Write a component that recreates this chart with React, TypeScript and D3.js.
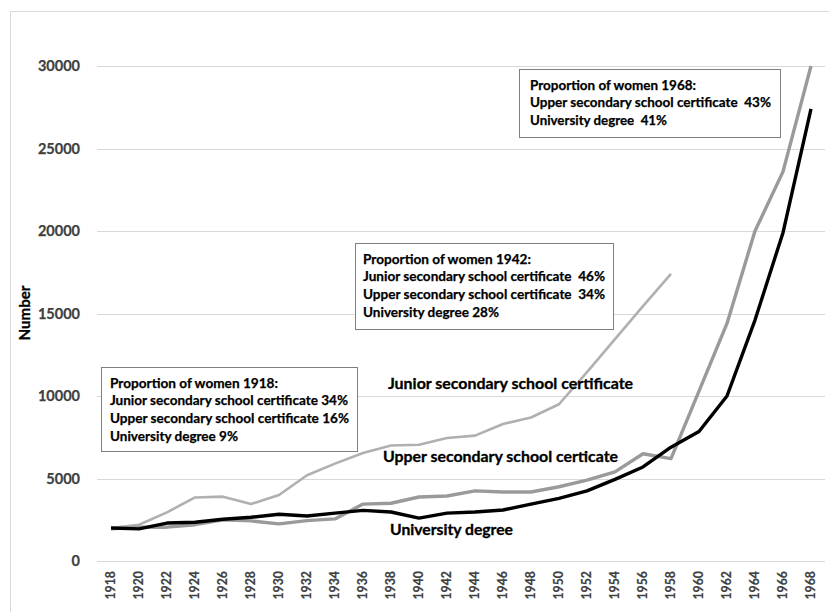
import * as d3 from 'd3'

const years = d3.range(1918, 1969, 2).map(String)
const juniorValues = [2000, 2200, 2950, 3850, 3900, 3450, 4000, 5200, 5900, 6550, 7000, 7050, 7450, 7600, 8300, 8700, 9500, 11450, 13450, 15450, 17400]
const upperValues = [1950, 2050, 2050, 2200, 2500, 2430, 2250, 2450, 2550, 3450, 3500, 3880, 3940, 4250, 4180, 4180, 4500, 4900, 5400, 6500, 6200, 10300, 14400, 20000, 23600, 30000]
const universityValues = [2000, 1950, 2300, 2350, 2530, 2650, 2830, 2730, 2900, 3070, 2970, 2600, 2900, 2970, 3090, 3450, 3800, 4250, 4950, 5700, 6900, 7850, 10000, 14600, 19900, 27400]
const yTicks = [0, 5000, 10000, 15000, 20000, 25000, 30000]

const seriesLabels = [
  { text: 'Junior secondary school certificate', x: 388, y: 384, w: 245 },
  { text: 'Upper secondary school certicate', x: 383, y: 457, w: 235 },
  { text: 'University degree', x: 390, y: 530, w: 123 },
]

const noteBoxes = [
  {
    x: 101, y: 367, w: 256, h: 84, tx: 110, ty: 383,
    lines: ['Proportion of women 1918:', 'Junior secondary school certificate 34%', 'Upper secondary school certificate 16%', 'University degree 9%'],
    widths: [168, 238, 239, 128],
  },
  {
    x: 355, y: 243, w: 258, h: 86, tx: 363, ty: 259,
    lines: ['Proportion of women 1942:', 'Junior secondary school certificate  46%', 'Upper secondary school certificate  34%', 'University degree 28%'],
    widths: [168, 242, 242, 136],
  },
  {
    x: 519, y: 69, w: 261, h: 68, tx: 530, ty: 85,
    lines: ['Proportion of women 1968:', 'Upper secondary school certificate  43%', 'University degree  41%'],
    widths: [166, 241, 137],
  },
]

const font = 'Lato, "Open Sans", sans-serif'

export default function App() {
  const x = d3.scaleBand().domain(years).range([97, 825])
  const y = d3.scaleLinear().domain([0, 30000]).range([561, 66])
  const cx = (i: number) => (x(years[i]) ?? 0) + x.bandwidth() / 2
  const line = d3.line<number>().x((_, i) => cx(i)).y((d) => y(d))

  return (
    <div style={{ position: 'absolute', left: 0, top: 0 }}>
      <svg width={829} height={612} style={{ display: 'block' }} fontFamily={font} fontWeight="bold">
        <rect x={0} y={0} width={829} height={612} fill="#fff" />
        {/* outer frame */}
        <rect x={10.5} y={11.5} width={830} height={620} fill="none" stroke="#d9d9d9" />

        {/* gridlines + y labels */}
        {yTicks.map((t) => (
          <g key={t}>
            <line x1={97} x2={825} y1={Math.round(y(t)) + 0.5} y2={Math.round(y(t)) + 0.5} stroke="#d9d9d9" />
            <text x={80} y={y(t)} dy="0.35em" textAnchor="end" fontSize={14.5} fill="#404040" stroke="#404040" strokeWidth={0.25}>
              {t}
            </text>
          </g>
        ))}

        <text transform="translate(25,313) rotate(-90)" textAnchor="middle" dy="0.35em" fontSize={15} textLength={55} lengthAdjust="spacingAndGlyphs" fill="#000" stroke="#000" strokeWidth={0.3}>
          Number
        </text>

        {/* x labels */}
        {years.map((yr, i) => (
          <text key={yr} transform={`translate(${cx(i)},571) rotate(-90)`} textAnchor="end" dy="0.35em" fontSize={12.3} fill="#404040" stroke="#404040" strokeWidth={0.2}>
            {yr}
          </text>
        ))}

        {/* lines */}
        <path d={line(juniorValues) ?? ''} fill="none" stroke="#b0b0b0" strokeWidth={2.6} strokeLinejoin="round" />
        <path d={line(upperValues) ?? ''} fill="none" stroke="#9a9a9a" strokeWidth={3.4} strokeLinejoin="round" />
        <path d={line(universityValues) ?? ''} fill="none" stroke="#000" strokeWidth={3.4} strokeLinejoin="round" />

        {/* series labels */}
        {seriesLabels.map((s) => (
          <text key={s.text} x={s.x} y={s.y} dy="0.35em" fontSize={14.5} textLength={s.w} lengthAdjust="spacingAndGlyphs" fill="#000" stroke="#000" strokeWidth={0.3}>
            {s.text}
          </text>
        ))}

        {/* note boxes */}
        {noteBoxes.map((b) => (
          <g key={b.lines[0]}>
            <rect x={b.x + 0.5} y={b.y + 0.5} width={b.w} height={b.h} fill="#fff" stroke="#7f7f7f" />
            {b.lines.map((l, i) => (
              <text key={i} x={b.tx} y={b.ty + i * 17.7} dy="0.35em" fontSize={13.5} textLength={b.widths[i]} lengthAdjust="spacingAndGlyphs" fill="#000" stroke="#000" strokeWidth={0.25} style={{ whiteSpace: 'pre' }}>
                {l}
              </text>
            ))}
          </g>
        ))}
      </svg>
    </div>
  )
}
